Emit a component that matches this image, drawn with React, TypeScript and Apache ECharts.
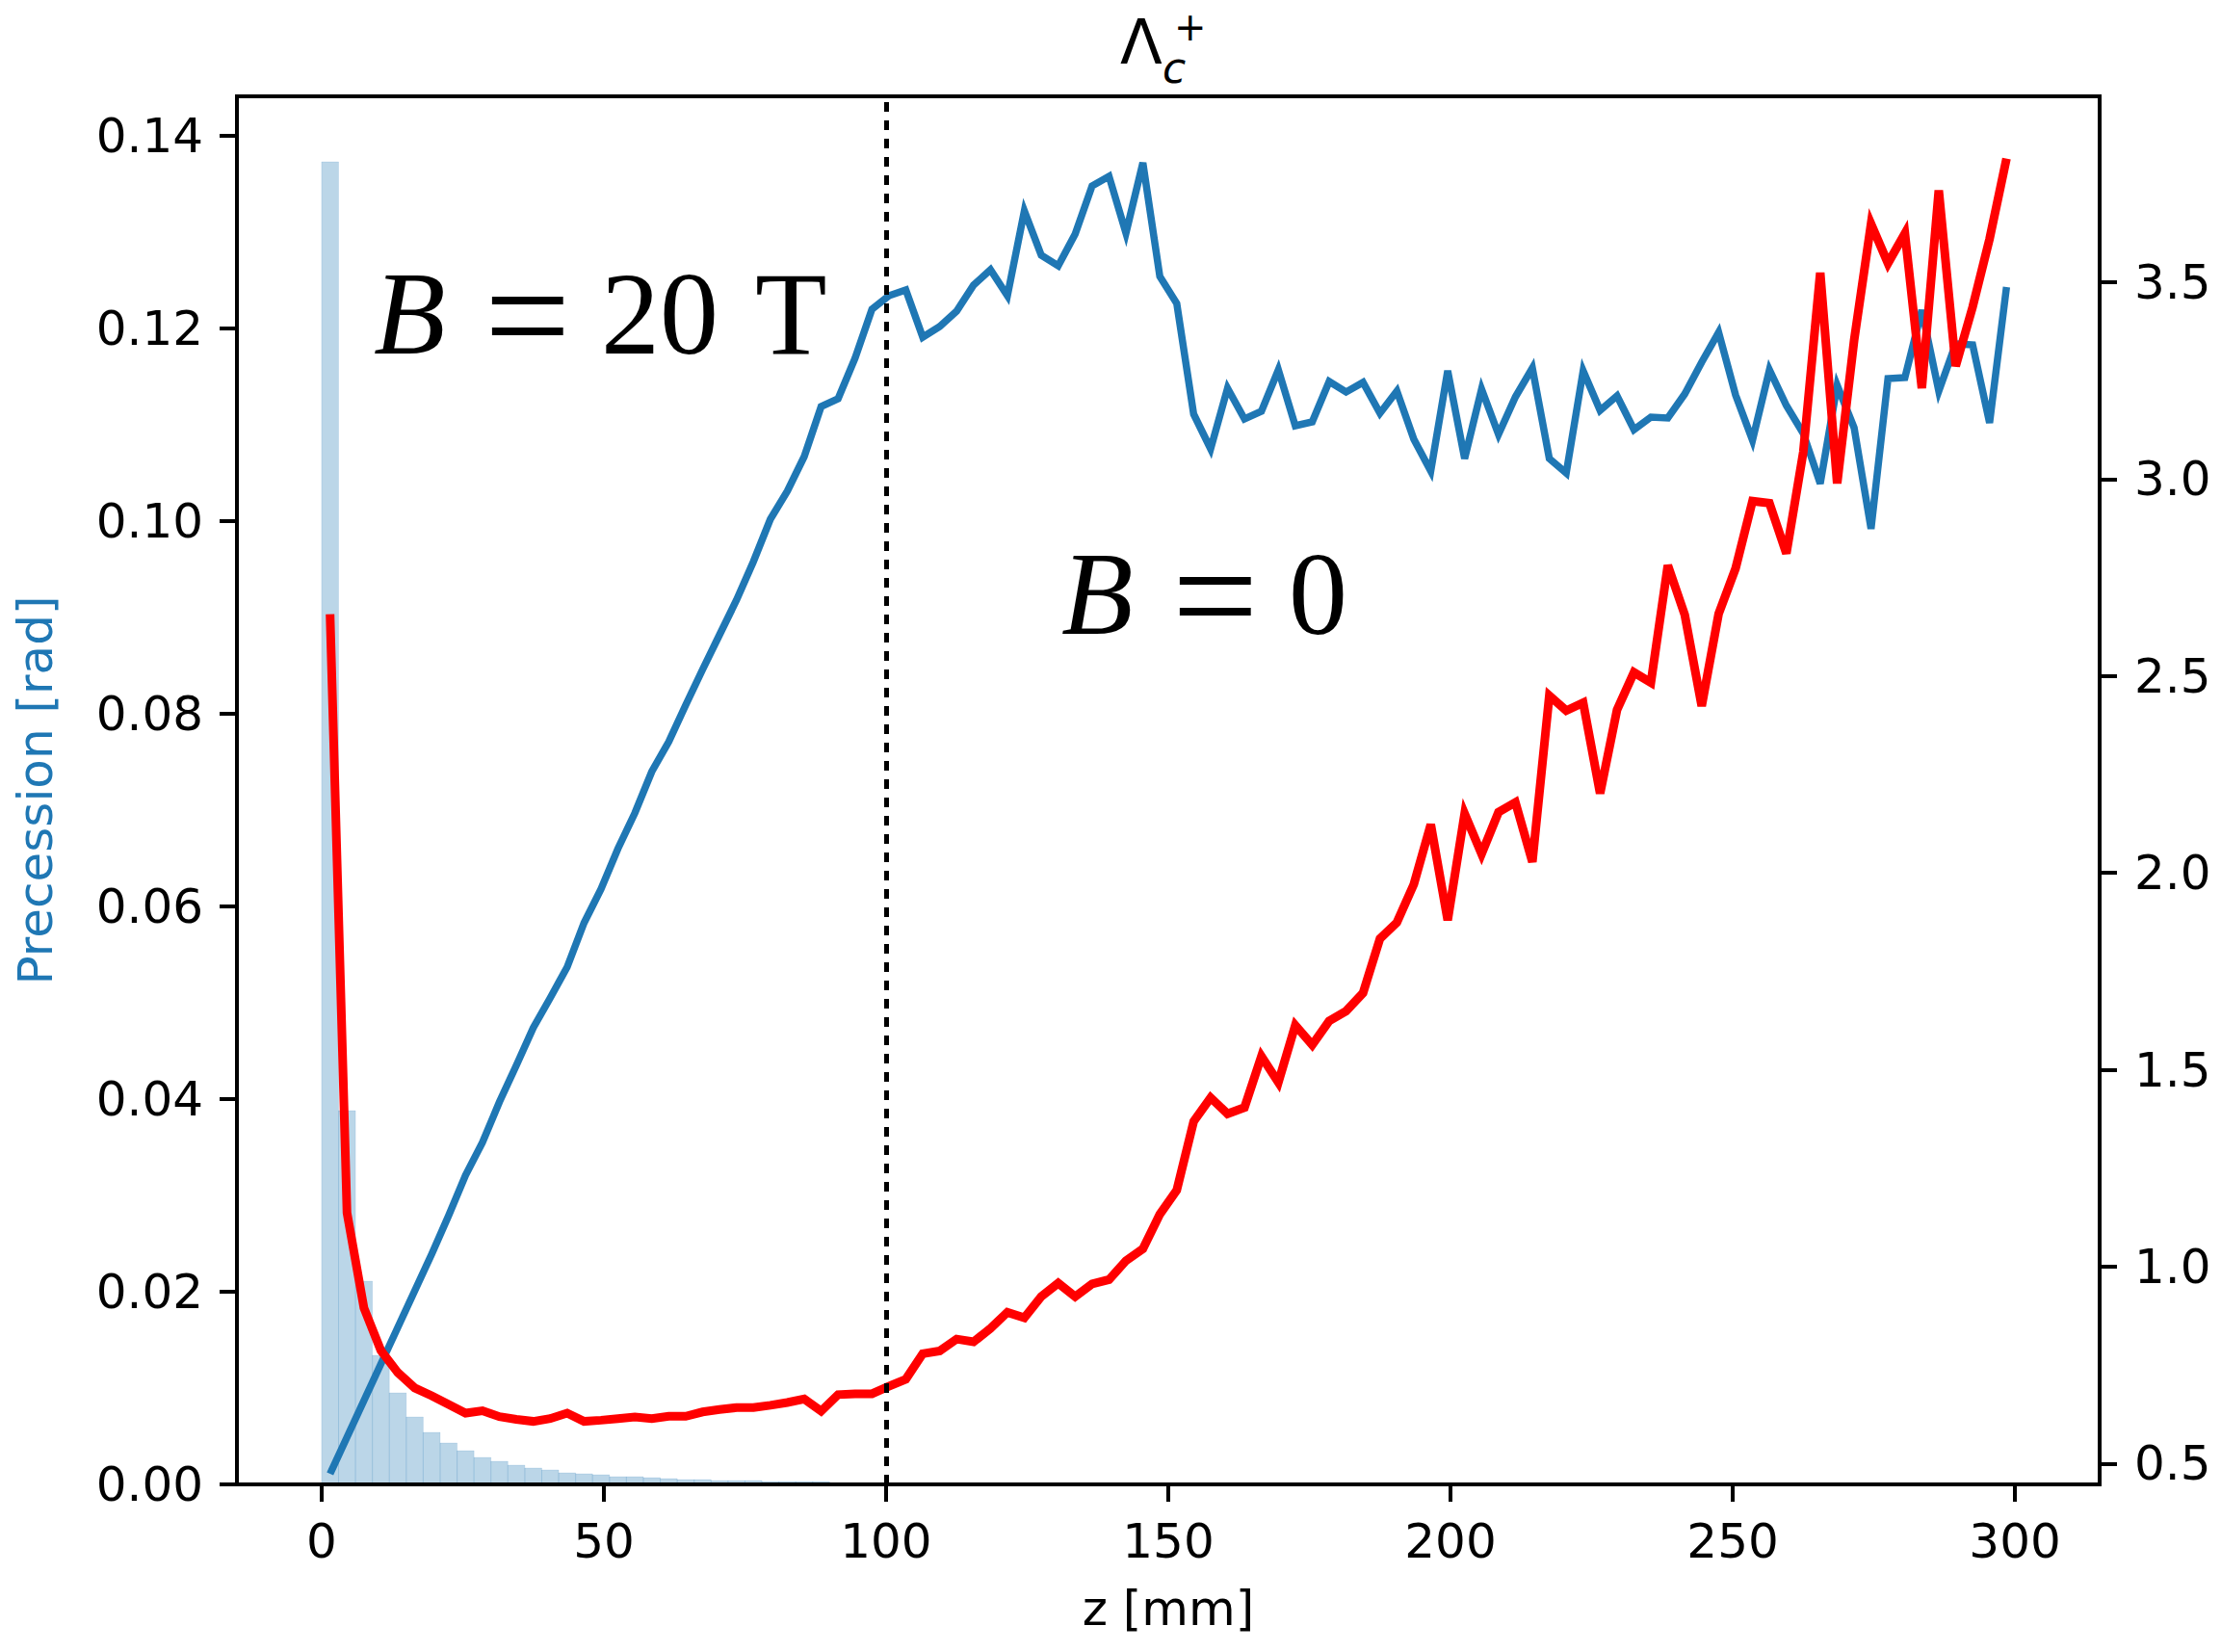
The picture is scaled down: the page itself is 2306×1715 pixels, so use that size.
import React, { useEffect, useRef } from 'react';
import * as echarts from 'echarts';

// z positions (bin centres, mm)
const Z_MM = [
  1.5, 4.5, 7.5, 10.5, 13.5, 16.5, 19.5, 22.5, 25.5, 28.5,
  31.5, 34.5, 37.5, 40.5, 43.5, 46.5, 49.5, 52.5, 55.5, 58.5,
  61.5, 64.5, 67.5, 70.5, 73.5, 76.5, 79.5, 82.5, 85.5, 88.5,
  91.5, 94.5, 97.5, 100.5, 103.5, 106.5, 109.5, 112.5, 115.5, 118.5,
  121.5, 124.5, 127.5, 130.5, 133.5, 136.5, 139.5, 142.5, 145.5, 148.5,
  151.5, 154.5, 157.5, 160.5, 163.5, 166.5, 169.5, 172.5, 175.5, 178.5,
  181.5, 184.5, 187.5, 190.5, 193.5, 196.5, 199.5, 202.5, 205.5, 208.5,
  211.5, 214.5, 217.5, 220.5, 223.5, 226.5, 229.5, 232.5, 235.5, 238.5,
  241.5, 244.5, 247.5, 250.5, 253.5, 256.5, 259.5, 262.5, 265.5, 268.5,
  271.5, 274.5, 277.5, 280.5, 283.5, 286.5, 289.5, 292.5, 295.5, 298.5,
];

// Precession, B = 20 T (left axis, rad)
const PRECESSION_20T = [
  0.0011, 0.0049, 0.0087, 0.0125, 0.0163, 0.0201, 0.0239, 0.0279, 0.0321, 0.0355,
  0.0397, 0.0435, 0.0474, 0.0505, 0.0537, 0.0583, 0.0618, 0.0660, 0.0697, 0.0740,
  0.0771, 0.0809, 0.0846, 0.0882, 0.0918, 0.0958, 0.1002, 0.1031, 0.1067, 0.1119,
  0.1127, 0.1169, 0.1220, 0.1234, 0.1240, 0.1191, 0.1202, 0.1218, 0.1245, 0.1261,
  0.1234, 0.1322, 0.1276, 0.1265, 0.1298, 0.1348, 0.1358, 0.1299, 0.1372, 0.1254,
  0.1226, 0.1111, 0.1075, 0.1138, 0.1106, 0.1114, 0.1157, 0.1099, 0.1103, 0.1145,
  0.1134, 0.1144, 0.1112, 0.1135, 0.1085, 0.1052, 0.1156, 0.1065, 0.1137, 0.1090,
  0.1129, 0.1159, 0.1065, 0.1050, 0.1156, 0.1115, 0.1130, 0.1095, 0.1108, 0.1107,
  0.1132, 0.1165, 0.1196, 0.1131, 0.1084, 0.1157, 0.1120, 0.1091, 0.1039, 0.1141,
  0.1097, 0.0992, 0.1148, 0.1149, 0.1219, 0.1135, 0.1184, 0.1183, 0.1102, 0.1243,
];

// B = 0 curve (right axis)
const RIGHT_B0 = [
  2.657, 1.137, 0.895, 0.787, 0.731, 0.692, 0.672, 0.650, 0.628, 0.634,
  0.619, 0.612, 0.607, 0.614, 0.628, 0.607, 0.610, 0.614, 0.618, 0.614,
  0.620, 0.620, 0.631, 0.637, 0.642, 0.642, 0.648, 0.655, 0.664, 0.633,
  0.675, 0.677, 0.677, 0.696, 0.714, 0.779, 0.786, 0.816, 0.809, 0.843,
  0.884, 0.870, 0.924, 0.958, 0.924, 0.956, 0.967, 1.015, 1.045, 1.133,
  1.194, 1.369, 1.429, 1.388, 1.404, 1.534, 1.468, 1.613, 1.563, 1.624,
  1.649, 1.695, 1.833, 1.874, 1.971, 2.123, 1.880, 2.150, 2.048, 2.154,
  2.179, 2.028, 2.450, 2.412, 2.432, 2.202, 2.414, 2.509, 2.483, 2.781,
  2.655, 2.424, 2.658, 2.773, 2.944, 2.939, 2.811, 3.069, 3.524, 2.989,
  3.352, 3.648, 3.548, 3.624, 3.231, 3.733, 3.287, 3.437, 3.610, 3.814,
];

// Decay-length histogram
const HIST_LEFT_EDGES = [
  0, 3, 6, 9, 12, 15, 18, 21, 24, 27,
  30, 33, 36, 39, 42, 45, 48, 51, 54, 57,
  60, 63, 66, 69, 72, 75, 78, 81, 84, 87,
];
const HIST_BIN_WIDTH = 3;
const HIST_HEIGHTS = [
  0.1373, 0.0388, 0.0211, 0.0134, 0.0095, 0.0070, 0.0054, 0.0043, 0.0035, 0.0028,
  0.0024, 0.0020, 0.0017, 0.0015, 0.0012, 0.0011, 0.0010, 0.0008, 0.0008, 0.0007,
  0.0006, 0.0005, 0.0005, 0.0004, 0.0004, 0.0004, 0.0003, 0.0003, 0.0003, 0.0003,
];

const X_TICKS = [0, 50, 100, 150, 200, 250, 300];
const LEFT_TICKS = [0, 0.02, 0.04, 0.06, 0.08, 0.1, 0.12, 0.14];
const RIGHT_TICKS = [0.5, 1.0, 1.5, 2.0, 2.5, 3.0, 3.5];
const B_SPLIT_Z = 100;

const SANS = '"DejaVu Sans", "Noto Sans", sans-serif';
const SERIF = '"Liberation Serif", "DejaVu Serif", serif';

function txt(text: string, x: number, y: number, fontSize: number, fontFamily: string, opts: any = {}) {
  const align = opts.align || 'left';
  return {
    type: 'text',
    x,
    y,
    z: 100,
    scaleX: opts.scaleX || 1,
    scaleY: opts.scaleY || 1,
    style: {
      text,
      fontSize,
      fontFamily,
      fontStyle: opts.fontStyle || 'normal',
      fill: '#000',
      align,
      textAlign: align,
      verticalAlign: 'middle',
      textVerticalAlign: 'middle',
    },
  };
}

export default function App() {
  const ref = useRef<HTMLDivElement>(null);

  useEffect(() => {
    if (!ref.current) return;
    const chart = echarts.init(ref.current, null, { renderer: 'svg' });

    const tickStyle = { color: '#000', width: 4 };
    const labelBase = { fontSize: 50, fontFamily: SANS, color: '#000' };

    const option: any = {
      animation: false,
      backgroundColor: '#ffffff',
      grid: {
        left: 246,
        right: 126,
        top: 100,
        bottom: 174,
        containLabel: false,
        outerBoundsMode: 'none',
        show: true,
        borderColor: '#000',
        borderWidth: 4,
        backgroundColor: 'transparent',
        z: 10,
      },
      xAxis: {
        type: 'value',
        min: -15,
        max: 315,
        axisLine: { show: false, onZero: false },
        splitLine: { show: false },
        axisTick: { show: true, length: 18, lineStyle: tickStyle, customValues: X_TICKS },
        axisLabel: {
          ...labelBase,
          margin: 34,
          customValues: X_TICKS,
          formatter: (v: number) => String(v),
        },
        name: 'z [mm]',
        nameLocation: 'middle',
        nameGap: 104,
        nameMoveOverlap: false,
        nameTextStyle: { fontSize: 50, fontFamily: SANS, color: '#000' },
      },
      yAxis: [
        {
          type: 'value',
          position: 'left',
          min: 0,
          max: 0.1441,
          axisLine: { show: false, onZero: false },
          splitLine: { show: false },
          axisTick: { show: true, length: 18, lineStyle: tickStyle, customValues: LEFT_TICKS },
          axisLabel: {
            ...labelBase,
            margin: 35,
            customValues: LEFT_TICKS,
            formatter: (v: number) => v.toFixed(2),
          },
          name: 'Precession [rad]',
          nameLocation: 'middle',
          nameRotate: 90,
          nameGap: 184,
          nameMoveOverlap: false,
          nameTextStyle: { fontSize: 50, fontFamily: SANS, color: '#1f77b4' },
        },
        {
          type: 'value',
          position: 'right',
          min: 0.447,
          max: 3.972,
          axisLine: { show: false, onZero: false },
          splitLine: { show: false },
          axisTick: { show: true, length: 18, lineStyle: tickStyle, customValues: RIGHT_TICKS },
          axisLabel: {
            ...labelBase,
            margin: 36,
            customValues: RIGHT_TICKS,
            formatter: (v: number) => v.toFixed(1),
          },
        },
      ],
      series: [
        {
          type: 'custom',
          xAxisIndex: 0,
          yAxisIndex: 0,
          z: 1,
          silent: true,
          encode: { x: [0, 1], y: 2 },
          data: HIST_LEFT_EDGES.map((l, i) => [l, l + HIST_BIN_WIDTH, HIST_HEIGHTS[i]]),
          renderItem: (params: any, api: any) => {
            const x0 = api.value(0);
            const x1 = api.value(1);
            const h = api.value(2);
            const p0 = api.coord([x0, h]);
            const p1 = api.coord([x1, 0]);
            return {
              type: 'rect',
              shape: { x: p0[0], y: p0[1], width: p1[0] - p0[0], height: p1[1] - p0[1] },
              style: { fill: 'rgba(31,119,180,0.3)', stroke: 'rgba(31,119,180,0.12)', lineWidth: 1 },
            };
          },
        },
        {
          type: 'line',
          name: 'B = 20 T',
          xAxisIndex: 0,
          yAxisIndex: 0,
          z: 3,
          showSymbol: false,
          symbol: 'none',
          data: Z_MM.map((z, i) => [z, PRECESSION_20T[i]]),
          lineStyle: { color: '#1f77b4', width: 7.5, cap: 'butt', join: 'miter' },
          markLine: {
            silent: true,
            symbol: ['none', 'none'],
            label: { show: false },
            lineStyle: { color: '#000', width: 5, type: [10, 9] },
            data: [{ xAxis: B_SPLIT_Z }],
          },
        },
        {
          type: 'line',
          name: 'B = 0',
          xAxisIndex: 0,
          yAxisIndex: 1,
          z: 4,
          showSymbol: false,
          symbol: 'none',
          data: Z_MM.map((z, i) => [z, RIGHT_B0[i]]),
          lineStyle: { color: '#ff0000', width: 9, cap: 'butt', join: 'miter' },
        },
      ],
      graphic: [
        // title  Λ_c^+
        txt('Λ', 1185, 44, 64, SANS, { align: 'center' }),
        txt('c', 1207, 70, 44, SANS, { fontStyle: 'italic' }),
        txt('+', 1219, 28, 40, SANS),
        // B = 20 T
        txt('B', 388, 325, 122, SERIF, { fontStyle: 'italic' }),
        txt('=', 503, 327, 122, SERIF, { scaleX: 1.3, scaleY: 1.3 }),
        txt('20', 624, 325, 122, SERIF),
        txt('T', 784, 325, 122, SERIF),
        // B = 0
        txt('B', 1102, 616, 122, SERIF, { fontStyle: 'italic' }),
        txt('=', 1217, 618, 122, SERIF, { scaleX: 1.3, scaleY: 1.3 }),
        txt('0', 1338, 616, 122, SERIF),
      ],
    };

    chart.setOption(option);
    return () => chart.dispose();
  }, []);

  return (
    <div
      ref={ref}
      style={{ position: 'absolute', left: 0, top: 0, width: 2306, height: 1715, background: '#fff' }}
    />
  );
}
